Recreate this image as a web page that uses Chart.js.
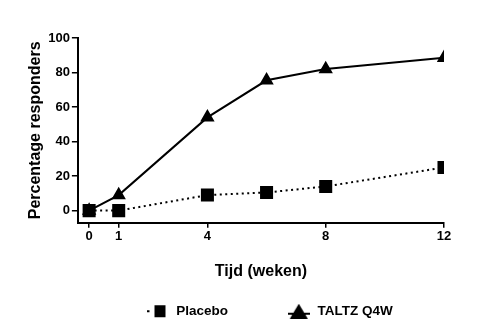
<!DOCTYPE html>
<html>
<head>
<meta charset="utf-8">
<script src="https://cdn.jsdelivr.net/npm/chart.js@4/dist/chart.umd.min.js"></script>
<style>
  html, body { margin: 0; padding: 0; background: #fff; }
  #wrap { width: 501px; height: 330px; }
</style>
</head>
<body>
<div id="wrap"><canvas id="grafik"></canvas></div>
<script>
// data
const weken = [0, 1, 4, 6, 8, 12];
const placebo = [0, 0, 9, 10.5, 14, 25];
const taltz = [0, 9, 54, 75.5, 82, 88.5];
const xTicks = [0, 1, 4, 8, 12];
const yTicks = [0, 20, 40, 60, 80, 100];
const reeksen = ['Placebo', 'TALTZ Q4W'];

Chart.defaults.font.family = '"Liberation Sans", Arial, sans-serif';
Chart.defaults.font.weight = 'bold';
Chart.defaults.color = '#000';

// legend symbols: dotted stub + square, and a triangle on a short line
function legendSquare() {
    const c = document.createElement('canvas');
    c.width = 20; c.height = 14;
    const g = c.getContext('2d');
    g.fillStyle = '#000';
    g.fillRect(0, 6, 2, 2);
    g.fillRect(7, 1, 11, 12);
    return c;
}
function legendTriangle() {
    const c = document.createElement('canvas');
    c.width = 22; c.height = 15;
    const g = c.getContext('2d');
    g.fillStyle = '#000';
    g.beginPath();
    g.moveTo(11, 0); g.lineTo(20, 15); g.lineTo(2, 15);
    g.closePath(); g.fill();
    g.fillRect(0, 9, 22, 2);
    return c;
}
const legendSymbols = [legendSquare(), legendTriangle()];
const spaties = [13, 11]; // trailing spaces used to place the legend items

const ctx = document.getElementById('grafik').getContext('2d');
const grafik = new Chart(ctx, {
    type: 'line',
    data: {
        datasets: [{
            label: reeksen[0],
            data: weken.map((w, i) => ({ x: w, y: placebo[i] })),
            borderColor: '#000',
            backgroundColor: '#000',
            borderWidth: 2,
            borderDash: [2, 3.5],
            pointStyle: 'rect',
            pointRadius: 7.8,
            pointHoverRadius: 7.8,
            fill: false,
            tension: 0
        },
        {
            label: reeksen[1],
            data: weken.map((w, i) => ({ x: w, y: taltz[i] })),
            borderColor: '#000',
            backgroundColor: '#000',
            borderWidth: 2,
            pointStyle: 'triangle',
            pointRadius: 6.3,
            pointHoverRadius: 6.3,
            fill: false,
            tension: 0
        }]
    },
    options: {
        responsive: true,
        maintainAspectRatio: false,
        animation: false,
        layout: {
            padding: { left: 22, right: 57, top: 38, bottom: 2 }
        },
        plugins: {
            legend: {
                position: 'bottom',
                align: 'end',
                labels: {
                    usePointStyle: true,
                    pointStyleWidth: 24,
                    font: { size: 13.5, weight: 'bold' },
                    padding: 10,
                    generateLabels: (chart) => reeksen.map((naam, i) => ({
                        text: naam + '\u00a0'.repeat(spaties[i]),
                        pointStyle: legendSymbols[i],
                        fillStyle: '#000',
                        strokeStyle: '#000',
                        lineWidth: 0,
                        hidden: false,
                        datasetIndex: i
                    }))
                }
            },
            tooltip: { enabled: false }
        },
        scales: {
            x: {
                type: 'linear',
                min: -0.38,
                max: 12,
                afterBuildTicks: (axis) => { axis.ticks = xTicks.map(v => ({ value: v })); },
                grid: { drawOnChartArea: false, drawTicks: true, tickLength: 5, color: '#000', lineWidth: 1.5 },
                border: { color: '#000', width: 2 },
                ticks: { font: { size: 13, weight: 'bold' }, padding: 1, maxRotation: 0 },
                title: {
                    display: true,
                    text: 'Tijd (weken)',
                    font: { size: 16, weight: 'bold' },
                    padding: { top: 17, bottom: 13 }
                }
            },
            y: {
                min: -7,
                max: 100,
                afterBuildTicks: (axis) => { axis.ticks = yTicks.map(v => ({ value: v })); },
                grid: { drawOnChartArea: false, drawTicks: true, tickLength: 6, color: '#000', lineWidth: 1.5 },
                border: { color: '#000', width: 2 },
                ticks: { font: { size: 13, weight: 'bold' }, padding: 2 },
                title: {
                    display: true,
                    text: 'Percentage responders',
                    font: { size: 16, weight: 'bold' },
                    padding: { bottom: 1 }
                }
            }
        }
    }
});
</script>
</body>
</html>
